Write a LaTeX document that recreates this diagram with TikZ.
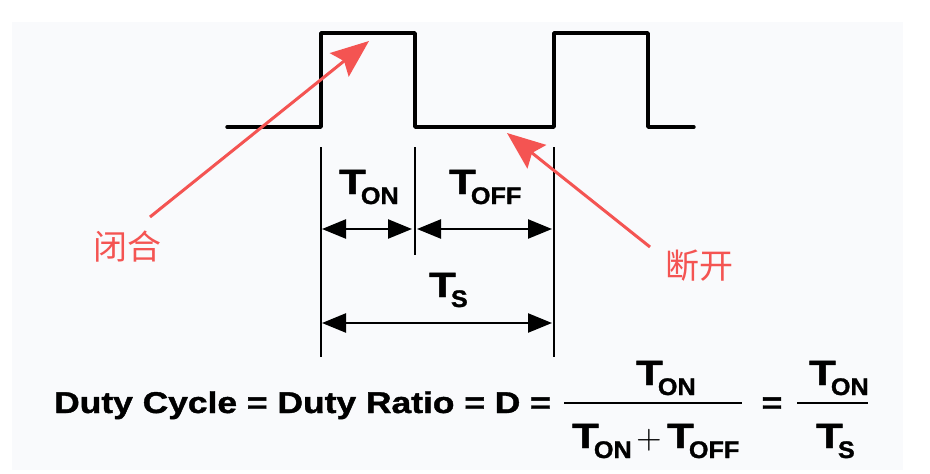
\documentclass[tikz,border=0pt]{standalone}
\usepackage{graphicx}
\usepackage{fontspec}
\setmainfont{Liberation Sans}
\newfontfamily\heavy[FakeBold=1.2]{Liberation Sans Bold}
\newfontfamily\cjk{Noto Sans CJK SC}
\usetikzlibrary{arrows.meta}
\definecolor{annot}{RGB}{244,84,82}
\definecolor{bgc}{RGB}{249,250,252}
\newcommand{\Tsub}[1]{\scalebox{1.25}[1]{\fontsize{35}{35}\selectfont\heavy T}\kern-5pt\raisebox{-10pt}{\scalebox{1.05}[1]{\fontsize{24}{24}\selectfont\heavy #1}}}
\begin{document}
\begin{tikzpicture}[x=1pt,y=-1pt,
  wave/.style={line width=3.4pt, line join=round, line cap=round},
  dimline/.style={line width=1.8pt},
  dimarrow/.style={line width=2.4pt, {Triangle[length=24pt,width=19pt]}-{Triangle[length=24pt,width=19pt]}},
  lab/.style={inner sep=0pt, anchor=base west},
  note/.style={inner sep=0pt, text=annot, font=\cjk\fontsize{34}{34}\selectfont},
  pointer/.style={draw=annot, line width=3pt, -{Stealth[length=38pt,width=30pt,inset=6pt]}},
  fracbar/.style={line width=2.6pt}
]
\useasboundingbox (0,0) rectangle (930,474);
\fill[bgc] (12,22) rectangle (903,470);

% waveform
\draw[wave] (227,127) -- (321,127) -- (321,33) -- (415,33) -- (415,127) -- (554,127) -- (554,33) -- (648,33) -- (648,127) -- (694,127);

% dimension lines
\coordinate (l1t) at (321,147); \coordinate (l1b) at (321,357);
\coordinate (l2t) at (415,147); \coordinate (l2b) at (415,255);
\coordinate (l3t) at (554,147); \coordinate (l3b) at (554,357);
\draw[dimline] (l1t) -- (l1b);
\draw[dimline] (l2t) -- (l2b);
\draw[dimline] (l3t) -- (l3b);

\coordinate (a1l) at (322,229); \coordinate (a1r) at (412,229);
\coordinate (a2l) at (417,229); \coordinate (a2r) at (552,229);
\coordinate (a3l) at (322,323); \coordinate (a3r) at (552,323);
\draw[dimarrow] (a1l) -- (a1r);
\draw[dimarrow] (a2l) -- (a2r);
\draw[dimarrow] (a3l) -- (a3r);

\node[lab] (ton) at (339,194) {\Tsub{ON}};
\node[lab] (toff) at (449,194) {\Tsub{OFF}};
\node[lab] (ts) at (429,297) {\Tsub{S}};

% formula
\node[lab] (duty) at (54,413) {\scalebox{1.18}[1]{\fontsize{30}{30}\selectfont\heavy Duty Cycle = Duty Ratio = D =}};
\coordinate (b1l) at (564,403); \coordinate (b1r) at (742,403);
\coordinate (b2l) at (797,403); \coordinate (b2r) at (868,403);
\draw[fracbar] (b1l) -- (b1r);
\draw[fracbar] (b2l) -- (b2r);
\node[lab] (n1) at (636,385) {\Tsub{ON}};
\node[lab] (d1a) at (572,448) {\Tsub{ON}};
\node[inner sep=0pt] (plus) at (649,440) {\scalebox{3.3}{$+$}};
\node[lab] (d1b) at (667,448) {\Tsub{OFF}};
\node[inner sep=0pt, anchor=base] (eq2) at (772,413) {\scalebox{1.18}[1]{\fontsize{30}{30}\selectfont\heavy =}};
\node[lab] (n2) at (809,385) {\Tsub{ON}};
\node[lab] (d2) at (816,448) {\Tsub{S}};

% annotations
\node[note] (bihe) at (127,247) {闭合};
\node[note] (duankai) at (699,266) {断开};
\coordinate (p1s) at (150,217); \coordinate (p1e) at (369,41);
\coordinate (p2s) at (650,247); \coordinate (p2e) at (507,133);
\draw[pointer] (p1s) -- (p1e);
\draw[pointer] (p2s) -- (p2e);
\end{tikzpicture}
\end{document}
